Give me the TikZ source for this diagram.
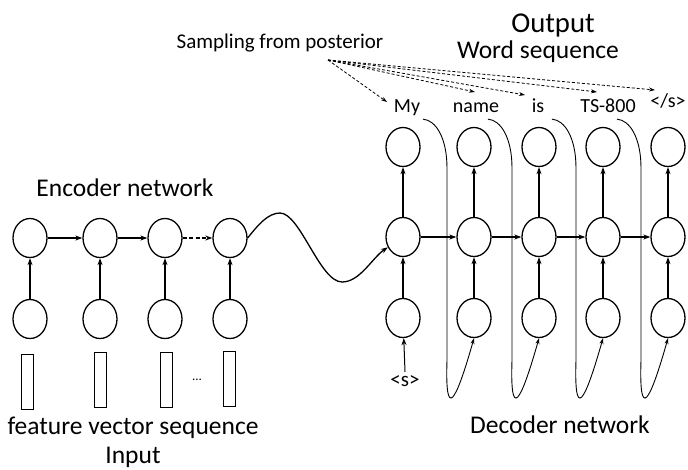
\documentclass[tikz,border=0pt]{standalone}
\usepackage{fontspec}
\setmainfont{Carlito}
\usepackage{tikz}
\usetikzlibrary{calc,arrows.meta,shapes.geometric}

\begin{document}
\begin{tikzpicture}[x=1pt, y=-1pt,
        unit/.style={ellipse, draw, line width=1.3pt, minimum width=34pt, minimum height=39pt, inner sep=0pt},
        vec/.style={rectangle, draw, line width=0.9pt, minimum width=12pt, minimum height=55pt, inner sep=0pt},
        lbl/.style={inner sep=0pt, font=\fontsize{25.5}{30}\selectfont},
        word/.style={inner sep=0pt, anchor=base, font=\fontsize{20}{24}\selectfont},
        flow/.style={line width=1.3pt, -{Stealth[length=7pt, width=5pt]}},
        feed/.style={line width=0.9pt, -{Stealth[length=6pt, width=4pt]}},
        samp/.style={line width=0.8pt, dash pattern=on 3pt off 2pt, -{Stealth[length=6pt, width=4pt]}}]
    \useasboundingbox (0,0) rectangle (688,469);

    % encoder
    \foreach \i/\x in {1/30, 2/100, 3/165, 4/230} {
        \node[unit] (e\i) at (\x,238) {};
        \node[unit] (x\i) at (\x,319) {};
        \draw[flow] (x\i) -- (e\i);
    }
    \draw[flow] (e1) -- (e2);
    \draw[flow] (e2) -- (e3);
    \draw[flow, dash pattern=on 4pt off 2.5pt] (e3) -- (e4);

    \node[vec] (f1) at (27,382) {};
    \node[vec] (f2) at (100,380) {};
    \node[vec] (f3) at (166,380) {};
    \node[vec] (f4) at (229,379) {};
    \node[inner sep=0pt, font=\fontsize{13}{15}\selectfont] (dots) at (197,380) {...};

    \node[lbl] (enc) at (125,188) {Encoder network};
    \node[lbl] (feat) at (133,428) {feature vector sequence};
    \node[lbl] (inp) at (133,457) {Input};

    % decoder
    \foreach \i/\x in {1/403, 2/474, 3/539, 4/603, 5/668} {
        \node[unit] (o\i) at (\x,147) {};
        \node[unit] (d\i) at (\x,237) {};
        \node[unit] (i\i) at (\x,318) {};
        \draw[flow] (d\i) -- (o\i);
        \draw[flow] (i\i) -- (d\i);
    }
    \foreach \p/\n in {1/2, 2/3, 3/4, 4/5}
        \draw[flow] (d\p) -- (d\n);

    \node[word, font=\fontsize{21}{24}\selectfont] (s0) at (405,386) {<s>};
    \draw[flow, line width=1pt] (s0.north) ++(0,-3) coordinate (s0top) -- (i1);

    \node[word] (w1) at (407,112) {My};
    \node[word] (w2) at (476,112) {name};
    \node[word] (w3) at (538,112) {is};
    \node[word] (w4) at (608,112) {TS-800};
    \node[word] (w5) at (668,107) {</s>};

    % fed back words
    \foreach \n in {2,3,4,5}
        \draw[feed] ($(i\n.south)+(-51,-219)$) .. controls ($(i\n.south)+(-38,-218)$) and ($(i\n.south)+(-27,-200)$) ..
            ($(i\n.south)+(-27,-170)$) -- ($(i\n.south)+(-27,22)$)
            .. controls ($(i\n.south)+(-29,82)$) and ($(i\n.south)+(-19,67)$) .. (i\n.south);

    % context into decoder
    \draw[flow] (e4.east) .. controls (258,225) and (268,213) .. (280,213)
        .. controls (300,213) and (320,282) .. (342,282)
        .. controls (360,282) and (372,258) .. (d1);

    \node[lbl] (dec) at (560,425) {Decoder network};
    \node[inner sep=0pt, font=\fontsize{28.7}{33}\selectfont] (out) at (553,25) {Output};
    \node[inner sep=0pt, font=\fontsize{25.5}{30}\selectfont] (seq) at (538,52) {Word sequence};
    \node[inner sep=0pt, font=\fontsize{21}{25}\selectfont] (post) at (280,43) {Sampling from posterior};

    \coordinate (src) at (328,60);
    \draw[samp] (src) -- (387,102);
    \draw[samp] (src) -- (475,92);
    \draw[samp] (src) -- (525,95);
    \draw[samp] (src) -- (597,92);
    \draw[samp] (src) -- (655,90);
\end{tikzpicture}
\end{document}
